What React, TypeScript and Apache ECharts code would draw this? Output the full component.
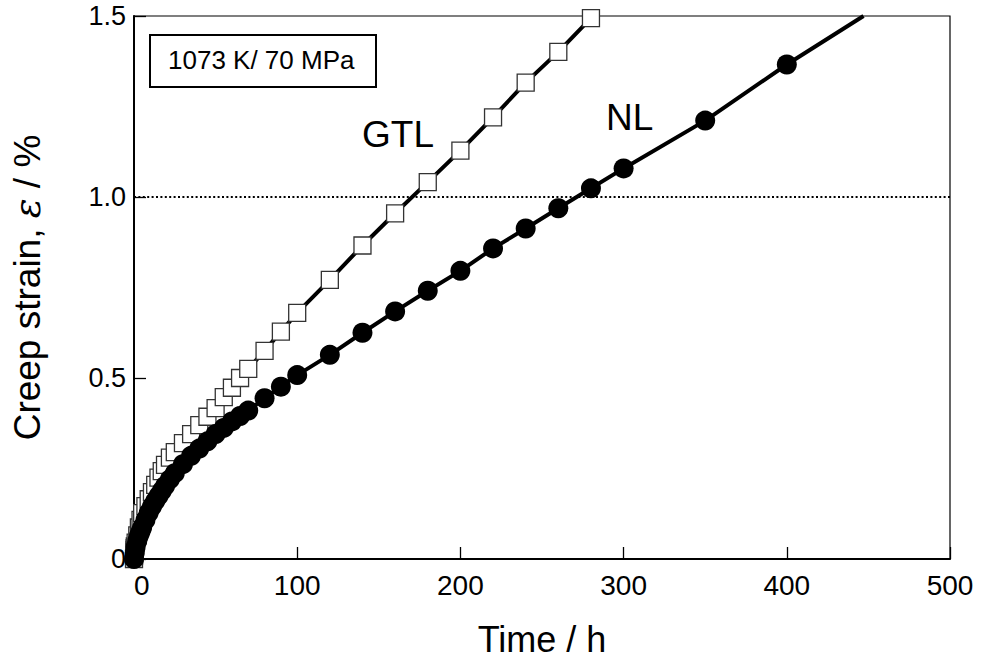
import { useEffect, useRef } from "react";
import * as echarts from "echarts";

// Creep curves at 1073 K / 70 MPa: time (h) vs creep strain (%)
const gtlTime = [
  0, 0.1, 0.2, 0.3, 0.4, 0.5, 1, 2, 3, 4, 5, 7, 9, 11, 13, 15, 17, 19, 22, 25,
  30, 35, 40, 45, 50, 55, 60, 65, 70, 80, 90, 100, 120, 140, 160, 180, 200, 220,
  240, 260, 280,
];
const gtlStrain = [
  0, 0.01, 0.018, 0.025, 0.03, 0.035, 0.045, 0.065, 0.087, 0.108, 0.127, 0.146,
  0.165, 0.185, 0.205, 0.225, 0.243, 0.26, 0.28, 0.295, 0.32, 0.345, 0.37,
  0.393, 0.417, 0.447, 0.473, 0.5, 0.525, 0.575, 0.628, 0.68, 0.771, 0.866,
  0.955, 1.041, 1.128, 1.22, 1.316, 1.401, 1.494,
];

const nlTime = [
  0, 0.5, 1, 2, 3, 4, 5, 7, 9, 11, 13, 15, 17, 19, 22, 25, 30, 35, 40, 45, 50,
  55, 60, 65, 70, 80, 90, 100, 120, 140, 160, 180, 200, 220, 240, 260, 280, 300,
  350, 400,
];
const nlStrain = [
  0, 0.017, 0.033, 0.05, 0.064, 0.075, 0.087, 0.108, 0.128, 0.145, 0.16, 0.174,
  0.188, 0.202, 0.22, 0.237, 0.262, 0.285, 0.305, 0.325, 0.345, 0.362, 0.38,
  0.395, 0.41, 0.444, 0.476, 0.508, 0.564, 0.625, 0.684, 0.741, 0.796, 0.858,
  0.913, 0.969, 1.024, 1.079, 1.211, 1.366,
];
// NL trend line carried on past the last measured point
const nlLineEnd = [447, 1.5];

const referenceStrain = 1.0;

const xTickValues = [0, 100, 200, 300, 400, 500];
const xTickLabels = ["0", "100", "200", "300", "400", "500"];
const yTickValues = [0, 0.5, 1.0, 1.5];
const yTickLabels = ["0", "0.5", "1.0", "1.5"];

const conditionText = "1073 K/ 70 MPa";
const gtlName = "GTL";
const nlName = "NL";

const FONT = '"Liberation Sans", Arial, Helvetica, sans-serif';

function pickLabel(values: number[], labels: string[], v: number) {
  const i = values.findIndex((t) => Math.abs(t - v) < 1e-9);
  return i >= 0 ? labels[i] : "";
}

export default function App() {
  const ref = useRef<HTMLDivElement>(null);

  useEffect(() => {
    if (!ref.current) return;
    const chart = echarts.init(ref.current, null, { renderer: "svg" });

    const gtlData = gtlTime.map((t, i) => [t, gtlStrain[i]]);
    const nlData: any[] = nlTime.map((t, i) => [t, nlStrain[i]]);
    nlData.push({ value: nlLineEnd, symbol: "none" });

    chart.setOption({
      animation: false,
      backgroundColor: "#fff",
      textStyle: { fontFamily: FONT, color: "#000" },
      grid: {
        left: 134,
        top: 16,
        width: 816,
        height: 543,
        show: true,
        borderColor: "#000",
        borderWidth: 1.2,
      },
      xAxis: {
        type: "value",
        min: 0,
        max: 500,
        interval: 100,
        axisLine: { show: true, onZero: false, lineStyle: { color: "#000", width: 2 } },
        axisTick: { show: true, inside: true, length: 12, lineStyle: { color: "#000", width: 1.3 } },
        splitLine: { show: false },
        axisLabel: {
          fontSize: 28,
          margin: 12,
          color: "#000",
          fontFamily: FONT,
          alignMinLabel: "left",
          formatter: (v: number) => pickLabel(xTickValues, xTickLabels, v),
        },
        name: "Time / h",
        nameLocation: "middle",
        nameGap: 62,
        nameTextStyle: { fontSize: 36, color: "#000", fontFamily: FONT },
      },
      yAxis: {
        type: "value",
        min: 0,
        max: 1.5,
        interval: 0.5,
        axisLine: { show: true, onZero: false, lineStyle: { color: "#000", width: 2 } },
        axisTick: { show: true, inside: true, length: 12, lineStyle: { color: "#000", width: 1.3 } },
        splitLine: { show: false },
        axisLabel: {
          fontSize: 27,
          margin: 8,
          color: "#000",
          fontFamily: FONT,
          formatter: (v: number) => pickLabel(yTickValues, yTickLabels, v),
        },
        name: "Creep strain, {e|ε} / %",
        nameLocation: "middle",
        nameGap: 88,
        nameRotate: 90,
        nameTextStyle: {
          fontSize: 37,
          color: "#000",
          fontFamily: FONT,
          rich: {
            e: {
              fontSize: 37,
              fontStyle: "italic",
              fontFamily: '"DejaVu Serif", "Liberation Serif", serif',
              color: "#000",
            },
          },
        },
      },
      series: [
        {
          name: gtlName,
          type: "line",
          data: gtlData,
          symbol: "rect",
          symbolSize: 17,
          itemStyle: { color: "#fff", borderColor: "#333", borderWidth: 1.3 },
          lineStyle: { color: "#000", width: 4 },
          z: 3,
          markLine: {
            silent: true,
            symbol: ["none", "none"],
            label: { show: false },
            lineStyle: { color: "#000", width: 2.2, type: [2, 2.4] },
            data: [{ yAxis: referenceStrain }],
            z: 1,
          },
        },
        {
          name: nlName,
          type: "line",
          data: nlData,
          symbol: "circle",
          symbolSize: 20,
          itemStyle: { color: "#000" },
          lineStyle: { color: "#000", width: 4 },
          z: 4,
        },
      ],
      graphic: [
        {
          type: "rect",
          left: 149,
          top: 34,
          shape: { width: 226, height: 52 },
          style: { fill: "#fff", stroke: "#000", lineWidth: 2 },
          z: 10,
        },
        {
          type: "text",
          x: 168,
          y: 60,
          style: {
            text: conditionText,
            fontSize: 26,
            fontFamily: FONT,
            fill: "#000",
            align: "left",
            verticalAlign: "middle",
            textAlign: "left",
            textVerticalAlign: "middle",
          },
          z: 11,
        },
        {
          type: "text",
          x: 362,
          y: 134,
          style: {
            text: gtlName,
            fontSize: 37,
            fontFamily: FONT,
            fill: "#000",
            align: "left",
            verticalAlign: "middle",
            textAlign: "left",
            textVerticalAlign: "middle",
          },
          z: 11,
        },
        {
          type: "text",
          x: 606,
          y: 117.5,
          style: {
            text: nlName,
            fontSize: 37,
            fontFamily: FONT,
            fill: "#000",
            align: "left",
            verticalAlign: "middle",
            textAlign: "left",
            textVerticalAlign: "middle",
          },
          z: 11,
        },
      ],
    });

    return () => chart.dispose();
  }, []);

  return (
    <div
      ref={ref}
      style={{ position: "fixed", left: 0, top: 0, width: 988, height: 663 }}
    />
  );
}
